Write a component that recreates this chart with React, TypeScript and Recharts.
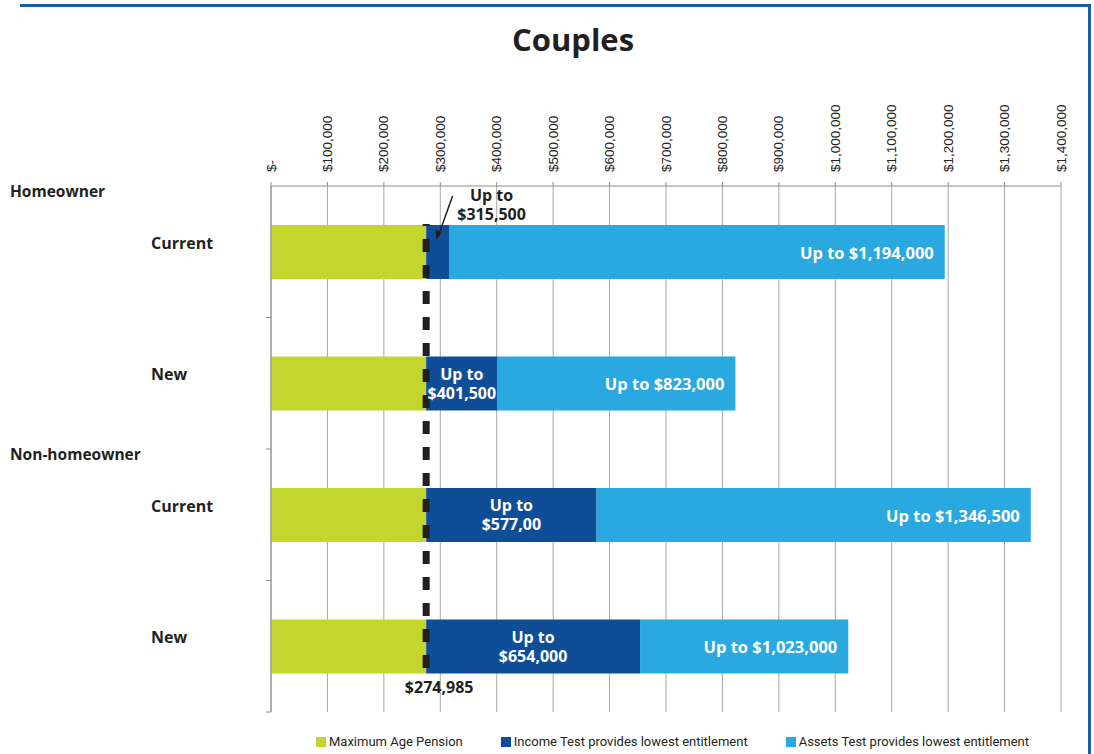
import React from 'react';
import {
  BarChart,
  Bar,
  XAxis,
  YAxis,
  CartesianGrid,
  Legend,
  LabelList,
  ReferenceLine
} from 'recharts';

// data
const categories = ['Homeowner Current', 'Homeowner New', 'Non-homeowner Current', 'Non-homeowner New'];
const rowLabels = ['Current', 'New', 'Current', 'New'];
const groupLabels = ['Homeowner', '', 'Non-homeowner', ''];
const maxPension = 274985;
const incomeLimits = [315500, 401500, 577000, 654000];
const assetsLimits = [1194000, 823000, 1346500, 1023000];
const incomeLabels = ['$315,500', '$401,500', '$577,00', '$654,000'];
const assetsLabels = ['$1,194,000', '$823,000', '$1,346,500', '$1,023,000'];
const xTicks = [0, 100000, 200000, 300000, 400000, 500000, 600000, 700000, 800000, 900000, 1000000, 1100000, 1200000, 1300000, 1400000];

const GREEN = '#c4d62e';
const NAVY = '#0f4e97';
const SKY = '#29a9e0';
const TEXT = '#231f20';
const FONT = '"Open Sans", "Noto Sans", sans-serif';

const W = 1094;
const H = 754;
const PLOT_TOP = 186;
const PLOT_BOTTOM = 712;
const BAND = (PLOT_BOTTOM - PLOT_TOP) / categories.length;

const data = categories.map((name, i) => ({
  name,
  pension: maxPension,
  income: incomeLimits[i] - maxPension,
  assets: assetsLimits[i] - incomeLimits[i]
}));

const fmtMoney = (v: number) => (v === 0 ? '$-' : '$' + v.toLocaleString('en-US'));

const XTick = (props: any) => {
  const { x, y, payload } = props;
  return (
    <text
      transform={`translate(${x},${y - 8}) rotate(-90)`}
      textAnchor="start"
      dominantBaseline="central"
      fontSize={13.5}
      fontFamily='"Liberation Sans", Arial, sans-serif'
      fill="#222"
    >
      {fmtMoney(payload.value)}
    </text>
  );
};

const YTick = (props: any) => {
  const { y, index } = props;
  const axisX = 271;
  return (
    <g>
      {groupLabels[index] && (
        <text x={10} y={y - 61} dominantBaseline="central" fontSize={15.5} fontWeight={700} fontFamily={FONT} fill={TEXT}>
          {groupLabels[index]}
        </text>
      )}
      <text x={151} y={y - 9} dominantBaseline="central" fontSize={16} fontWeight={700} fontFamily={FONT} fill={TEXT}>
        {rowLabels[index]}
      </text>
      <line x1={axisX - 5} x2={axisX} y1={y + BAND / 2} y2={y + BAND / 2} stroke="#8c8c8c" />
    </g>
  );
};

// two-line "Up to / $xxx" label as one text element
const TwoLine = ({ x, y, value, fill }: any) => (
  <text x={x} y={y} textAnchor="middle" fontFamily={FONT} fontWeight={700} fontSize={16} fill={fill}>
    <tspan x={x} dy={0}>Up to</tspan>
    <tspan x={x} dy={19}>{value}</tspan>
  </text>
);

const IncomeLabel = (props: any) => {
  const { x, y, width, height, index } = props;
  if (index === 0) {
    // label sits above the thin segment, with an arrow pointing into it
    const ax = x + width / 2;
    return (
      <g>
        <TwoLine x={ax + 54} y={y - 24} value={incomeLabels[index]} fill={TEXT} />
        <line x1={ax + 15} y1={y - 29} x2={ax + 1} y2={y + 10} stroke={TEXT} strokeWidth={1.5} />
        <path d={`M${ax - 1},${y + 15} L${ax - 2},${y + 5} L${ax + 4},${y + 7} Z`} fill={TEXT} />
      </g>
    );
  }
  return <TwoLine x={x + width / 2} y={y + height / 2 - 4} value={incomeLabels[index]} fill="#fff" />;
};

const AssetsLabel = (props: any) => {
  const { x, y, width, height, index } = props;
  return (
    <text
      x={x + width - 11}
      y={y + height / 2}
      textAnchor="end"
      dominantBaseline="central"
      fontFamily={FONT}
      fontWeight={700}
      fontSize={16.5}
      fill="#fff"
    >
      {'Up to ' + assetsLabels[index]}
    </text>
  );
};

const PensionLine = (props: any) => {
  const { x1, y1, y2 } = props;
  const top = y1 + 38;
  const bottom = y2 - 40;
  return (
    <g>
      <line x1={x1} x2={x1} y1={top} y2={bottom} stroke={TEXT} strokeWidth={7} strokeDasharray="13 13" strokeDashoffset={11} />
      <text x={x1 + 13} y={bottom + 15} textAnchor="middle" dominantBaseline="central" fontFamily={FONT} fontWeight={700} fontSize={16} fill={TEXT}>
        {fmtMoney(maxPension)}
      </text>
    </g>
  );
};

const legendItems = [
  { label: 'Maximum Age Pension', color: GREEN },
  { label: 'Income Test provides lowest entitlement', color: NAVY },
  { label: 'Assets Test provides lowest entitlement', color: SKY }
];

const LegendContent = () => (
  <div style={{ display: 'flex', gap: 38, fontFamily: 'Roboto, sans-serif', fontSize: 13, color: TEXT }}>
    {legendItems.map(item => (
      <div key={item.label} style={{ display: 'flex', alignItems: 'center' }}>
        <span style={{ width: 10, height: 10, background: item.color, marginRight: 3, display: 'inline-block' }} />
        {item.label}
      </div>
    ))}
  </div>
);

export default function App() {
  return (
    <div style={{ position: 'absolute', left: 0, top: 0, width: W, height: H, background: '#fff', overflow: 'hidden' }}>
      <div style={{ position: 'absolute', left: 20, top: 4, width: 1068, height: 760, borderTop: '3px solid #1b5ea8', borderRight: '3px solid #1b5ea8' }} />
      <div style={{ position: 'absolute', left: 0, width: 1146, top: 18, textAlign: 'center', fontFamily: FONT, fontWeight: 700, fontSize: 31, color: TEXT }}>
        Couples
      </div>
      <BarChart
        width={W}
        height={H}
        data={data}
        layout="vertical"
        margin={{ top: 100, right: 33, bottom: H - PLOT_BOTTOM - 18, left: 0 }}
        barCategoryGap={0}
      >
        <CartesianGrid horizontal={false} stroke="#a6a6a6" />
        <XAxis
          type="number"
          orientation="top"
          domain={[0, 1400000]}
          ticks={xTicks}
          interval={0}
          height={PLOT_TOP - 100}
          tick={<XTick />}
          tickSize={4}
          stroke="#8c8c8c"
        />
        <YAxis
          type="category"
          dataKey="name"
          width={271}
          tick={<YTick />}
          tickLine={false}
          stroke="#8c8c8c"
          interval={0}
        />
        <Bar dataKey="pension" stackId="a" fill={GREEN} barSize={54} isAnimationActive={false} />
        <Bar dataKey="income" stackId="a" fill={NAVY} barSize={54} isAnimationActive={false}>
          <LabelList content={<IncomeLabel />} />
        </Bar>
        <Bar dataKey="assets" stackId="a" fill={SKY} barSize={54} isAnimationActive={false}>
          <LabelList content={<AssetsLabel />} />
        </Bar>
        <ReferenceLine x={maxPension} shape={<PensionLine />} />
        <Legend
          content={<LegendContent />}
          wrapperStyle={{ position: 'absolute', left: 316, top: 734, width: 770, height: 18 }}
        />
      </BarChart>
    </div>
  );
}
